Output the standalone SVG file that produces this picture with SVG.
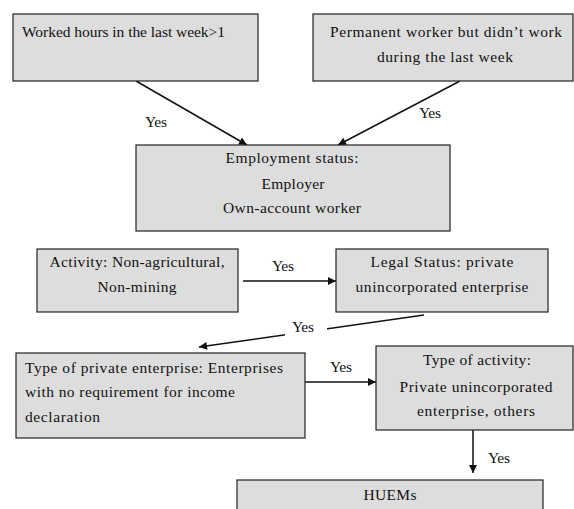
<svg xmlns="http://www.w3.org/2000/svg" width="574" height="509" viewBox="0 0 574 509">
<style>
.box{fill:#dddddd;stroke:#222;stroke-width:1.2}
text{font-family:'Liberation Serif','DejaVu Serif',serif;font-size:15.5px;fill:#111}
.c{text-anchor:middle}
.ln{stroke:#111;stroke-width:1.5;fill:none}
</style>
<defs>
<marker id="ah" viewBox="0 0 10 10" refX="10" refY="5" markerWidth="9" markerHeight="8" markerUnits="userSpaceOnUse" orient="auto">
<path d="M0,0 L10,5 L0,10 z" fill="#111"/>
</marker>
</defs>
<rect width="574" height="509" fill="#fff"/>
<g id="connectors">
<line class="ln" x1="136" y1="81" x2="247" y2="145" marker-end="url(#ah)"/>
<line class="ln" x1="460" y1="81" x2="338" y2="145" marker-end="url(#ah)"/>
<line class="ln" x1="243" y1="281" x2="336" y2="281" marker-end="url(#ah)"/>
<line class="ln" x1="424" y1="315" x2="199" y2="347" marker-end="url(#ah)"/>
<rect x="285" y="318" width="42" height="20" fill="#fff"/>
<line class="ln" x1="305" y1="382" x2="376" y2="382" marker-end="url(#ah)"/>
<line class="ln" x1="473" y1="430" x2="473" y2="473" marker-end="url(#ah)"/>
<text x="145" y="127" textLength="22">Yes</text>
<text x="419" y="118" textLength="22">Yes</text>
<text x="272" y="271" textLength="22">Yes</text>
<text x="292" y="332" textLength="22">Yes</text>
<text x="330" y="372" textLength="22">Yes</text>
<text x="488" y="463" textLength="22">Yes</text>
</g>
<g id="n1">
<rect class="box" x="13" y="14" width="245" height="67"/>
<text x="22" y="37" textLength="203">Worked hours in the last week&gt;1</text>
</g>
<g id="n2">
<rect class="box" x="313" y="14" width="260" height="67"/>
<text class="c" x="446" y="37" textLength="232">Permanent worker but didn’t work</text>
<text class="c" x="445" y="62" textLength="136">during the last week</text>
</g>
<g id="n3">
<rect class="box" x="136" y="145" width="314" height="86"/>
<text class="c" x="292" y="163" textLength="133">Employment status:</text>
<text class="c" x="293" y="189" textLength="63">Employer</text>
<text class="c" x="292" y="213" textLength="138">Own-account worker</text>
</g>
<g id="n4">
<rect class="box" x="37" y="249" width="201" height="63"/>
<text class="c" x="137" y="267" textLength="175">Activity: Non-agricultural,</text>
<text class="c" x="137" y="292" textLength="79">Non-mining</text>
</g>
<g id="n5">
<rect class="box" x="336" y="249" width="212" height="63"/>
<text class="c" x="442" y="267" textLength="143">Legal Status: private</text>
<text class="c" x="442" y="292" textLength="173">unincorporated enterprise</text>
</g>
<g id="n6">
<rect class="box" x="16" y="353" width="289" height="85"/>
<text x="25" y="373" textLength="258">Type of private enterprise: Enterprises</text>
<text x="25" y="397" textLength="210">with no requirement for income</text>
<text x="25" y="422" textLength="75">declaration</text>
</g>
<g id="n7">
<rect class="box" x="376" y="346" width="197" height="84"/>
<text class="c" x="477" y="365" textLength="108">Type of activity:</text>
<text class="c" x="476" y="392" textLength="153">Private unincorporated</text>
<text class="c" x="476" y="416" textLength="118">enterprise, others</text>
</g>
<g id="n8">
<rect class="box" x="237" y="480" width="306" height="45"/>
<text class="c" x="390" y="500" textLength="53">HUEMs</text>
</g>
</svg>
